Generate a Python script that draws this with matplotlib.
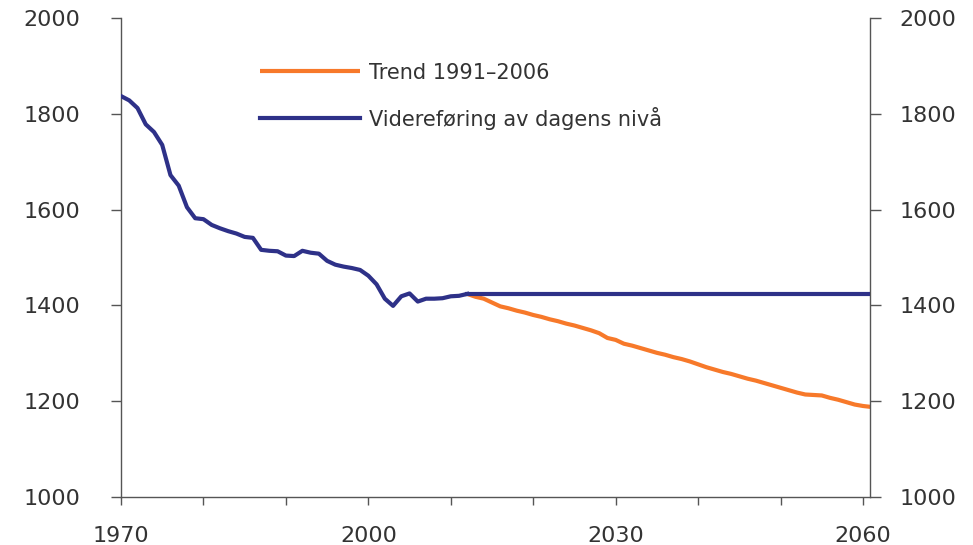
import matplotlib
matplotlib.use('Agg')
import matplotlib.pyplot as plt

# historical series, 1970-2012
hist_years = list(range(1970, 2013))
hist_vals = [1837, 1828, 1812, 1778, 1762, 1735, 1672, 1650, 1605, 1582,
             1580, 1568, 1561, 1555, 1550, 1543, 1541, 1516, 1514, 1513,
             1504, 1503, 1514, 1510, 1508, 1493, 1485, 1481, 1478, 1474,
             1462, 1444, 1414, 1399, 1419, 1425, 1408, 1414, 1414, 1415,
             1419, 1420, 1424]

# continuation at today's level
flat_years = [2012, 2061]
flat_vals = [1424, 1424]

# trend 1991-2006 projection
trend_years = list(range(2012, 2062))
trend_vals = [1424, 1418, 1414, 1406, 1398, 1394, 1389, 1385, 1380, 1376,
              1371, 1367, 1362, 1358, 1353, 1348, 1342, 1332, 1328, 1320,
              1316, 1311, 1306, 1301, 1297, 1292, 1288, 1283, 1277, 1271,
              1266, 1261, 1257, 1252, 1247, 1243, 1238, 1233, 1228, 1223,
              1218, 1214, 1213, 1212, 1207, 1203, 1198, 1193, 1190, 1188]

labels = ['Trend 1991\u20132006', 'Videreføring av dagens nivå']
yticks = [1000, 1200, 1400, 1600, 1800, 2000]
xticks = list(range(1970, 2061, 10))
xticklabels = ['1970', '', '', '2000', '', '', '2030', '', '', '2060']

blue = '#2e3188'
orange = '#f7792a'
txt = '#333333'
axc = '#555555'

plt.rcParams['font.family'] = ['DejaVu Sans']

fig = plt.figure(figsize=(9.73, 5.45), dpi=100)
ax = fig.add_axes([121/973., 48/545., 749/973., 479/545.])

l1, = ax.plot(trend_years, trend_vals, '-', color=orange, lw=3.0,
              solid_capstyle='butt', zorder=2)
ax.plot(flat_years, flat_vals, '-', color=blue, lw=3.0, zorder=3)
l2, = ax.plot(hist_years, hist_vals, '-', color=blue, lw=3.0,
              solid_joinstyle='round', zorder=4)

ax.set_xlim(1970, 2060.85)
ax.set_ylim(1000, 2000)
ax.set_xticks(xticks)
ax.set_xticklabels(xticklabels)
ax.set_yticks(yticks)

for s in ['left', 'right', 'bottom']:
    ax.spines[s].set_color(axc)
    ax.spines[s].set_linewidth(1.0)
ax.spines['top'].set_visible(False)

ax.tick_params(axis='x', direction='out', length=6, width=1.0, color=axc,
               labelsize=16, labelcolor=txt, pad=15)
ax.tick_params(axis='y', direction='out', length=7.5, width=1.0, color=axc,
               labelsize=16, labelcolor=txt, pad=22)

# right hand axis, labels sit closer to the spine
bx = ax.twinx()
bx.set_ylim(ax.get_ylim())
bx.set_yticks(yticks)
for s in bx.spines.values():
    s.set_visible(False)
bx.tick_params(axis='y', direction='out', length=8, width=1.0, color=axc,
               labelsize=16, labelcolor=txt, pad=13)

leg = ax.legend([l1, l2], labels, loc='upper left',
                bbox_to_anchor=(0.1856, 0.907), frameon=False,
                fontsize=15, handlelength=4.8, handletextpad=0.45,
                labelspacing=1.15, borderpad=0, borderaxespad=0)
for t in leg.get_texts():
    t.set_color(txt)

fig.savefig('out.png', dpi=100)
